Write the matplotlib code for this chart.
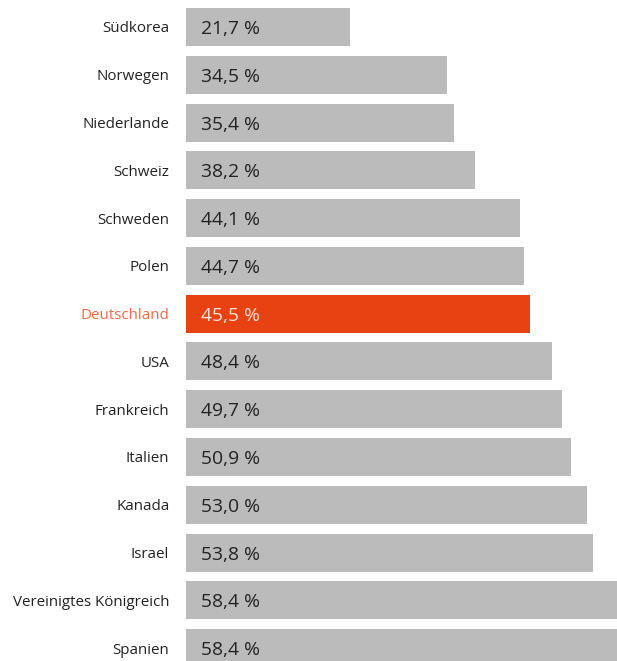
import matplotlib.pyplot as plt

# Countries and share values (%), top to bottom as in the chart
countries = ['Südkorea', 'Norwegen', 'Niederlande', 'Schweiz', 'Schweden', 'Polen',
             'Deutschland', 'USA', 'Frankreich', 'Italien', 'Kanada', 'Israel',
             'Vereinigtes Königreich', 'Spanien']
values = [21.7, 34.5, 35.4, 38.2, 44.1, 44.7, 45.5, 48.4, 49.7, 50.9, 53.0, 53.8, 58.4, 58.4]
highlight = 'Deutschland'

plt.rcParams['font.family'] = ['Open Sans', 'DejaVu Sans']

grey = '#bbbbbb'
orange = '#e84212'

fig = plt.figure(figsize=(6.17, 6.61), dpi=100)
ax = fig.add_axes([186 / 617, 0, 431 / 617, 1])

colors = [orange if c == highlight else grey for c in countries]
ypos = list(range(len(countries)))
ax.barh(ypos, values, height=0.795, color=colors)

# value labels inside bars
for y, v, c in zip(ypos, values, countries):
    txt = f'{v:.1f} %'.replace('.', ',')
    col = '#fbe3da' if c == highlight else '#222222'
    ax.text(2.0, y, txt, va='center_baseline', ha='left', fontsize=13.9, color=col)

ax.set_xlim(0, 431 / 7.57)
ax.set_ylim(13.27, -0.565)
ax.set_yticks(ypos)
ax.set_yticklabels(countries, fontsize=10.9, color='#222222', va='center_baseline')
for lbl in ax.get_yticklabels():
    if lbl.get_text() == highlight:
        lbl.set_color('#ee6a48')
ax.tick_params(axis='y', length=0, pad=12)
ax.set_xticks([])
for s in ax.spines.values():
    s.set_visible(False)

fig.savefig('out.png', dpi=100)
